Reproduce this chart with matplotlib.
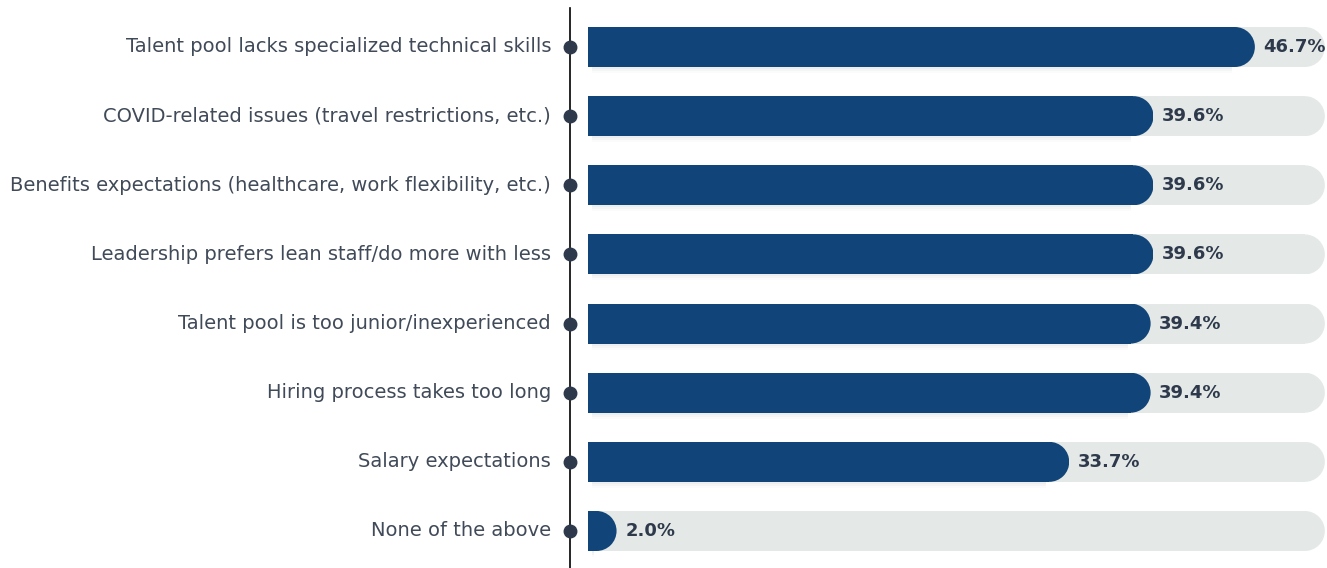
import matplotlib.pyplot as plt
from matplotlib.patches import Rectangle, Ellipse

categories = [
    "Talent pool lacks specialized technical skills",
    "COVID-related issues (travel restrictions, etc.)",
    "Benefits expectations (healthcare, work flexibility, etc.)",
    "Leadership prefers lean staff/do more with less",
    "Talent pool is too junior/inexperienced",
    "Hiring process takes too long",
    "Salary expectations",
    "None of the above",
]
values = [46.7, 39.6, 39.6, 39.6, 39.4, 39.4, 33.7, 2.0]

BAR_COLOR = "#11457a"
TRACK_COLOR = "#e4e9e7"
DOT_COLOR = "#2e3a4c"
TEXT_COLOR = "#404a58"
VALUE_COLOR = "#2e3a4c"

W, H, DPI = 1327, 568, 100
# pixel scale of the data units (percent on x, row on y)
PX_X = 14.28
PX_Y = 69.14
X0 = 588
Y0 = 47

track_end = 51.6
bar_h = 40 / PX_Y
cap_rx = 20 / PX_X


def rounded_bar(ax, y, end, color, zorder, shadow=False):
    # flat left edge, half-round right end
    clip = Rectangle((0, y - bar_h / 2), end, bar_h, transform=ax.transData)
    rect = Rectangle((0, y - bar_h / 2), max(end - cap_rx, 0), bar_h,
                     color=color, zorder=zorder, lw=0)
    cap = Ellipse((end - cap_rx, y), 2 * cap_rx, bar_h, color=color,
                  zorder=zorder, lw=0)
    ax.add_patch(rect)
    ax.add_patch(cap)
    cap.set_clip_path(clip)
    if shadow:
        # faint soft shadow along the bottom edge
        for k, a in enumerate([0.035, 0.025, 0.015]):
            dy = (2 + 2 * k) / PX_Y
            s = Rectangle((0.3, y - bar_h / 2 + dy), max(end - cap_rx - 0.5, 0), bar_h,
                          color="#1a2a3a", alpha=a, zorder=zorder - 0.5, lw=0)
            ax.add_patch(s)


fig = plt.figure(figsize=(W / DPI, H / DPI), dpi=DPI)
ax = fig.add_axes([0, 0, 1, 1])
ax.set_xlim(-X0 / PX_X, (W - X0) / PX_X)
ax.set_ylim((H - Y0) / PX_Y, -Y0 / PX_Y)
ax.axis("off")

line_x = (570 - X0) / PX_X
ax.axvline(line_x, ymin=0, ymax=1 - 8 / H, color="black", lw=1.2, zorder=3)

for i, (cat, v) in enumerate(zip(categories, values)):
    rounded_bar(ax, i, track_end, TRACK_COLOR, 1)
    rounded_bar(ax, i, v, BAR_COLOR, 2.5, shadow=True)
    ax.plot(line_x, i, "o", ms=9, color=DOT_COLOR, zorder=4)
    ax.text((551 - X0) / PX_X, i, cat, ha="right", va="center",
            fontsize=14, color=TEXT_COLOR)
    ax.text(v + 0.6, i, f"{v:.1f}%", ha="left", va="center",
            fontsize=13, fontweight="bold", color=VALUE_COLOR, zorder=5)

fig.savefig("out.png", dpi=DPI)
